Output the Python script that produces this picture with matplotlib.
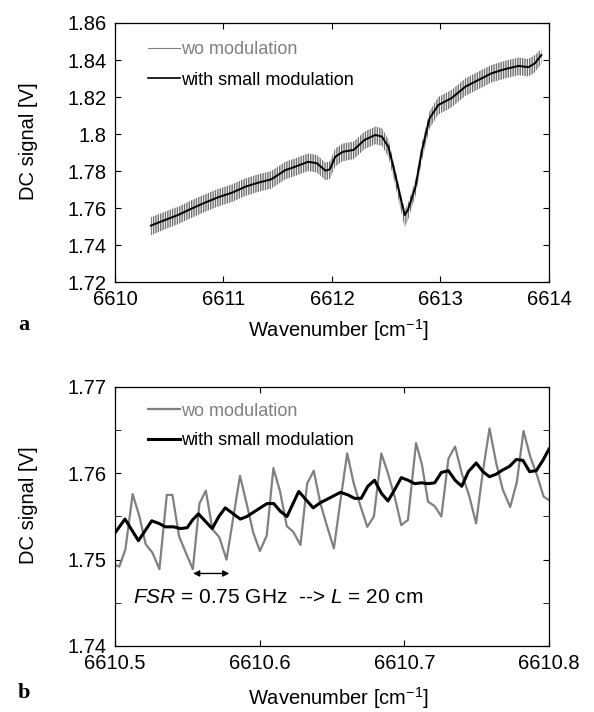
import numpy as np
import matplotlib
matplotlib.use('Agg')
import matplotlib.pyplot as plt
from matplotlib.ticker import MultipleLocator, FormatStrFormatter

plt.rcParams['font.family'] = ['Liberation Sans', 'DejaVu Sans']
plt.rcParams['hatch.linewidth'] = 1.0
plt.rcParams['mathtext.fontset'] = 'custom'
plt.rcParams['mathtext.rm'] = 'Liberation Sans'
plt.rcParams['mathtext.it'] = 'Liberation Sans:italic'

# panel a: overview scan (trend with modulation, envelope of the fringes without)
wn_a = [6610.33, 6610.46, 6610.58, 6610.71, 6610.83, 6610.95, 6611.08, 6611.20,
        6611.32, 6611.44, 6611.50, 6611.57, 6611.66, 6611.78, 6611.86, 6611.94,
        6611.98, 6612.03, 6612.10, 6612.20, 6612.30, 6612.40, 6612.46, 6612.52,
        6612.58, 6612.63, 6612.67, 6612.70, 6612.77, 6612.83, 6612.90, 6612.98,
        6613.10, 6613.23, 6613.35, 6613.47, 6613.59, 6613.72, 6613.81, 6613.87,
        6613.93]
mod_a = [1.7505, 1.7535, 1.7562, 1.7598, 1.7629, 1.7658, 1.7683, 1.7715,
         1.7737, 1.7755, 1.7778, 1.7805, 1.7823, 1.7850, 1.7842, 1.7802,
         1.7809, 1.7877, 1.7904, 1.7914, 1.7968, 1.7995, 1.7986, 1.7931,
         1.7788, 1.7661, 1.7562, 1.7589, 1.7715, 1.7914, 1.8085, 1.8157,
         1.8193, 1.8256, 1.8292, 1.8328, 1.8350, 1.8368, 1.8361, 1.8382,
         1.8427]
nomod_hi_a = [1.7550, 1.7580, 1.7607, 1.7643, 1.7674, 1.7703, 1.7728, 1.7760,
              1.7782, 1.7800, 1.7823, 1.7850, 1.7868, 1.7895, 1.7887, 1.7845,
              1.7853, 1.7922, 1.7949, 1.7959, 1.8013, 1.8040, 1.8031, 1.7972,
              1.7820, 1.7690, 1.7590, 1.7625, 1.7755, 1.7955, 1.8125, 1.8200,
              1.8237, 1.8301, 1.8337, 1.8373, 1.8395, 1.8413, 1.8406, 1.8427,
              1.8460]
nomod_lo_a = [1.7452, 1.7485, 1.7512, 1.7548, 1.7579, 1.7608, 1.7633, 1.7665,
              1.7687, 1.7705, 1.7728, 1.7755, 1.7773, 1.7800, 1.7792, 1.7750,
              1.7757, 1.7825, 1.7853, 1.7864, 1.7918, 1.7945, 1.7936, 1.7875,
              1.7730, 1.7600, 1.7495, 1.7535, 1.7665, 1.7860, 1.8030, 1.8105,
              1.8143, 1.8206, 1.8242, 1.8278, 1.8300, 1.8318, 1.8311, 1.8332,
              1.8380]

# panel b: zoom on the first 0.3 cm-1
wn_b_nomod = [6610.5000, 6610.5030, 6610.5072, 6610.5122, 6610.5169, 6610.5212,
              6610.5259, 6610.5307, 6610.5358, 6610.5397, 6610.5443, 6610.5490,
              6610.5538, 6610.5584, 6610.5628, 6610.5674, 6610.5721, 6610.5771,
              6610.5815, 6610.5864, 6610.5910, 6610.5956, 6610.6002, 6610.6049,
              6610.6095, 6610.6141, 6610.6187, 6610.6233, 6610.6282, 6610.6328,
              6610.6374, 6610.6420, 6610.6467, 6610.6513, 6610.6559, 6610.6605,
              6610.6651, 6610.6697, 6610.6744, 6610.6790, 6610.6841, 6610.6887,
              6610.6933, 6610.6979, 6610.7025, 6610.7081, 6610.7122, 6610.7164,
              6610.7210, 6610.7256, 6610.7305, 6610.7351, 6610.7397, 6610.7450,
              6610.7496, 6610.7543, 6610.7589, 6610.7635, 6610.7681, 6610.7732,
              6610.7778, 6610.7824, 6610.7871, 6610.7917, 6610.7963, 6610.8000]
sig_b_nomod = [1.7494, 1.7492, 1.7512, 1.7576, 1.7550, 1.7518,
               1.7508, 1.7489, 1.7575, 1.7575, 1.7527, 1.7508,
               1.7489, 1.7565, 1.7580, 1.7535, 1.7526, 1.7500,
               1.7546, 1.7597, 1.7565, 1.7531, 1.7510, 1.7528,
               1.7606, 1.7579, 1.7539, 1.7532, 1.7517, 1.7588,
               1.7603, 1.7565, 1.7538, 1.7513, 1.7569, 1.7623,
               1.7588, 1.7562, 1.7538, 1.7550, 1.7623, 1.7600,
               1.7573, 1.7540, 1.7546, 1.7635, 1.7610, 1.7567,
               1.7562, 1.7550, 1.7617, 1.7631, 1.7600, 1.7573,
               1.7542, 1.7602, 1.7652, 1.7612, 1.7581, 1.7561,
               1.7590, 1.7649, 1.7619, 1.7598, 1.7573, 1.7569]
wn_b_mod = [6610.5000, 6610.5069, 6610.5162, 6610.5254, 6610.5303, 6610.5349,
            6610.5406, 6610.5453, 6610.5499, 6610.5536, 6610.5577, 6610.5672,
            6610.5718, 6610.5762, 6610.5866, 6610.5912, 6610.5958, 6610.6051,
            6610.6097, 6610.6143, 6610.6189, 6610.6270, 6610.6370, 6610.6420,
            6610.6467, 6610.6559, 6610.6610, 6610.6656, 6610.6702, 6610.6748,
            6610.6794, 6610.6841, 6610.6887, 6610.6933, 6610.6979, 6610.7025,
            6610.7072, 6610.7118, 6610.7164, 6610.7210, 6610.7256, 6610.7305,
            6610.7351, 6610.7397, 6610.7443, 6610.7497, 6610.7543, 6610.7589,
            6610.7635, 6610.7681, 6610.7727, 6610.7774, 6610.7820, 6610.7866,
            6610.7912, 6610.7958, 6610.8000]
sig_b_mod = [1.7531, 1.7547, 1.7522, 1.7545, 1.7542, 1.7538,
             1.7538, 1.7536, 1.7537, 1.7546, 1.7553, 1.7536,
             1.7550, 1.7560, 1.7547, 1.7550, 1.7555, 1.7565,
             1.7565, 1.7556, 1.7550, 1.7579, 1.7560, 1.7566,
             1.7570, 1.7578, 1.7575, 1.7571, 1.7571, 1.7585,
             1.7592, 1.7577, 1.7568, 1.7581, 1.7595, 1.7592,
             1.7588, 1.7589, 1.7588, 1.7589, 1.7601, 1.7603,
             1.7592, 1.7585, 1.7602, 1.7612, 1.7602, 1.7596,
             1.7599, 1.7604, 1.7608, 1.7616, 1.7615, 1.7602,
             1.7603, 1.7615, 1.7628]

labels = ['wo modulation', 'with small modulation']
GRAY = '#808080'

fig = plt.figure(figsize=(5.94, 7.12), dpi=100)
ax1 = fig.add_axes([0.1936, 0.6039, 0.7306, 0.3638])
ax2 = fig.add_axes([0.1936, 0.0927, 0.7306, 0.3638])


def style_axis(ax):
    ax.tick_params(which='both', direction='in', top=True, right=True,
                   labelsize=14.5, pad=6)
    ax.tick_params(which='major', length=4)
    ax.tick_params(which='minor', length=4)
    for sp in ax.spines.values():
        sp.set_linewidth(0.9)
    ax.set_ylabel('DC signal [V]', fontsize=14.5)
    ax.set_xlabel('Wavenumber [cm$^{-1}$]', fontsize=14.5)
    ax.yaxis.set_label_coords(-0.177, 0.545)


# ---- panel a
ax1.fill_between(wn_a, nomod_lo_a, nomod_hi_a, facecolor='none',
                 edgecolor='#6e6e6e', hatch='|||||||', linewidth=0)
ax1.plot(wn_a, mod_a, color='black', lw=1.4)
h1 = plt.Line2D([], [], color=GRAY, lw=0.8)
h2 = plt.Line2D([], [], color='black', lw=1.2)
ax1.set_xlim(6610, 6614)
ax1.set_ylim(1.72, 1.86)
ax1.xaxis.set_major_locator(MultipleLocator(1))
ax1.yaxis.set_major_locator(MultipleLocator(0.02))
ax1.xaxis.set_major_formatter(FormatStrFormatter('%g'))
ax1.yaxis.set_major_formatter(FormatStrFormatter('%g'))
style_axis(ax1)
ax1.xaxis.set_label_coords(0.515, -0.135)
ax1.legend([h1, h2], labels, loc='upper left', bbox_to_anchor=(0.076, 0.93),
           frameon=False, fontsize=13, handlelength=1.75, handletextpad=0.1,
           labelspacing=0.75, borderpad=0, borderaxespad=0,
           labelcolor=[GRAY, 'black'])

# ---- panel b
ax2.plot(wn_b_nomod, sig_b_nomod, color=GRAY, lw=1.6, label=labels[0])
ax2.plot(wn_b_mod, sig_b_mod, color='black', lw=2.2, label=labels[1])
ax2.set_xlim(6610.5, 6610.8)
ax2.set_ylim(1.74, 1.77)
ax2.xaxis.set_major_locator(MultipleLocator(0.1))
ax2.yaxis.set_major_locator(MultipleLocator(0.01))
ax2.yaxis.set_minor_locator(MultipleLocator(0.005))
ax2.xaxis.set_major_formatter(FormatStrFormatter('%g'))
ax2.yaxis.set_major_formatter(FormatStrFormatter('%g'))
style_axis(ax2)
ax2.xaxis.set_label_coords(0.515, -0.15)
ax2.legend(loc='upper left', bbox_to_anchor=(0.076, 0.94),
           frameon=False, fontsize=13, handlelength=1.75, handletextpad=0.1,
           labelspacing=0.7, borderpad=0, borderaxespad=0,
           labelcolor=[GRAY, 'black'])

ax2.annotate('', xy=(6610.579, 1.7484), xytext=(6610.554, 1.7484),
             arrowprops=dict(arrowstyle='<|-|>', color='black', lw=1.0,
                             mutation_scale=9, shrinkA=0, shrinkB=0))
ax2.text(6610.5125, 1.7456, '$\\mathit{FSR}$ = 0.75 GHz  --> $\\mathit{L}$ = 20 cm',
         fontsize=15, va='center', ha='left')

# panel letters
fig.text(0.03, 1 - 325 / 712, 'a', family='Liberation Serif', weight='bold',
         fontsize=16, va='center')
fig.text(0.03, 1 - 693 / 712, 'b', family='Liberation Serif', weight='bold',
         fontsize=16, va='center')

fig.savefig('out.png', dpi=100)
